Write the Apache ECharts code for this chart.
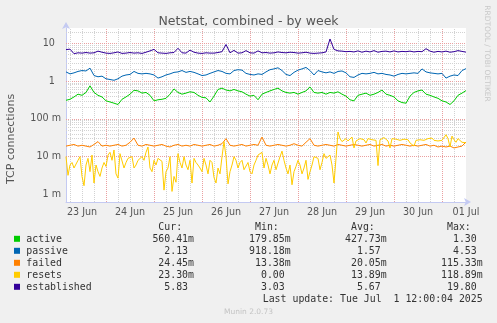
<!DOCTYPE html>
<html>
<head>
<meta charset="utf-8">
<script src="https://cdn.jsdelivr.net/npm/echarts@6/dist/echarts.min.js"></script>
<style>
  html, body { margin: 0; padding: 0; background: #f0f0f0; }
  #chart { width: 497px; height: 323px; }
</style>
</head>
<body>
<div id="chart"></div>
<script>
// Time axis: hours since 23 Jun 00:00; samples start at 04:00.
const START_HOUR = 4;
const END_HOUR = 204;
const STEP_2H = 2;   // active, passive, failed, established
const STEP_1H = 1;   // resets

const dayLabels = ['23 Jun', '24 Jun', '25 Jun', '26 Jun', '27 Jun', '28 Jun', '29 Jun', '30 Jun', '01 Jul'];
const yTickLabels = { '-3': '1 m', '-2': '10 m', '-1': '100 m', '0': '1', '1': '10' };

const seriesNames = ['active', 'passive', 'failed', 'resets', 'established'];
const seriesColors = ['#00cc00', '#0066b3', '#ff8000', '#ffcc00', '#330099'];

const active = [
  0.31, 0.33, 0.38, 0.45, 0.42, 0.5, 0.75, 0.5, 0.42, 0.38,
  0.3, 0.28, 0.26, 0.24, 0.33, 0.38, 0.45, 0.57, 0.55, 0.48,
  0.5, 0.42, 0.3, 0.32, 0.33, 0.35, 0.45, 0.62, 0.5, 0.45,
  0.48, 0.52, 0.5, 0.42, 0.37, 0.36, 0.28, 0.4, 0.6, 0.65,
  0.58, 0.55, 0.6, 0.55, 0.52, 0.45, 0.4, 0.42, 0.32, 0.45,
  0.5, 0.55, 0.6, 0.65, 0.55, 0.5, 0.48, 0.5, 0.45, 0.5,
  0.55, 0.7, 0.5, 0.48, 0.5, 0.45, 0.5, 0.48, 0.52, 0.45,
  0.4, 0.32, 0.3, 0.42, 0.45, 0.48, 0.42, 0.45, 0.5, 0.58,
  0.45, 0.42, 0.38, 0.3, 0.27, 0.26, 0.4, 0.5, 0.55, 0.58,
  0.45, 0.42, 0.38, 0.35, 0.3, 0.28, 0.24, 0.3, 0.42, 0.48,
  0.5604
];

const passive = [
  1.75, 1.55, 1.65, 1.8, 1.9, 1.85, 2.2, 1.4, 1.3, 1.35,
  1.15, 1.1, 1.05, 1.15, 1.35, 1.45, 1.5, 1.8, 1.6, 1.55,
  1.6, 1.55, 1.45, 1.2, 1.3, 1.45, 1.55, 1.7, 1.75, 1.9,
  1.7, 1.8, 1.7, 1.55, 1.4, 1.45, 1.6, 1.75, 1.9, 1.8,
  1.6, 1.55, 1.9, 2.0, 1.95, 1.6, 1.5, 1.45, 1.55, 1.5,
  1.75, 2.0, 2.1, 2.25, 1.9, 1.5, 1.4, 1.7, 1.95, 2.1,
  2.3, 1.9, 1.45, 1.9, 1.75, 1.65, 1.75, 1.6, 1.8, 1.85,
  1.65, 1.3, 1.25, 1.45, 1.6, 1.55, 1.6, 1.7, 1.55, 1.6,
  1.5, 1.45, 1.35, 1.5, 1.6, 1.55, 1.6, 1.65, 1.6, 2.1,
  1.75, 1.65, 1.6, 1.55, 1.6, 1.2, 1.35, 1.45, 1.4, 1.9,
  2.13
];

const failed = [
  0.019, 0.020, 0.021, 0.019, 0.020, 0.019, 0.018, 0.021, 0.025, 0.019,
  0.020, 0.019, 0.020, 0.021, 0.019, 0.020, 0.024, 0.031, 0.020, 0.019,
  0.021, 0.020, 0.019, 0.020, 0.021, 0.019, 0.018, 0.020, 0.021, 0.019,
  0.020, 0.019, 0.021, 0.020, 0.019, 0.020, 0.021, 0.019, 0.020, 0.022,
  0.030, 0.020, 0.019, 0.020, 0.021, 0.019, 0.020, 0.021, 0.020, 0.033,
  0.020, 0.019, 0.020, 0.021, 0.020, 0.019, 0.020, 0.022, 0.020, 0.019,
  0.024, 0.030, 0.020, 0.019, 0.020, 0.021, 0.020, 0.019, 0.021, 0.020,
  0.019, 0.020, 0.021, 0.020, 0.019, 0.020, 0.021, 0.019, 0.020, 0.021,
  0.019, 0.020, 0.019, 0.020, 0.021, 0.020, 0.019, 0.020, 0.019, 0.020,
  0.021, 0.019, 0.020, 0.018, 0.019, 0.018, 0.019, 0.017, 0.018, 0.019,
  0.02445
];

const resets = [
  0.0100, 0.0032, 0.0060, 0.0070, 0.0050, 0.0050, 0.0080, 0.0100, 0.0030, 0.0017,
  0.0060, 0.0090, 0.0040, 0.0110, 0.0020, 0.0060, 0.0040, 0.0030, 0.0050, 0.0070,
  0.0055, 0.0110, 0.0130, 0.0080, 0.0150, 0.0035, 0.0027, 0.0120, 0.0130, 0.0050,
  0.0070, 0.0090, 0.0080, 0.0100, 0.0050, 0.0060, 0.0080, 0.0090, 0.0100, 0.0080,
  0.0130, 0.0180, 0.0050, 0.0040, 0.0080, 0.0060, 0.0090, 0.0100, 0.0075, 0.0013,
  0.0040, 0.0050, 0.0100, 0.0012, 0.0030, 0.0021, 0.0120, 0.0070, 0.0050, 0.0100,
  0.0060, 0.0045, 0.0080, 0.0020, 0.0090, 0.0070, 0.0060, 0.0050, 0.0040, 0.0090,
  0.0060, 0.0035, 0.0080, 0.0070, 0.0028, 0.0020, 0.0050, 0.0035, 0.0100, 0.0250,
  0.0100, 0.0019, 0.0040, 0.0060, 0.0100, 0.0080, 0.0050, 0.0070, 0.0080, 0.0045,
  0.0050, 0.0070, 0.0040, 0.0035, 0.0060, 0.0080, 0.0110, 0.0120, 0.0130, 0.0050,
  0.0090, 0.0060, 0.0035, 0.0060, 0.0080, 0.0045, 0.0040, 0.0100, 0.0140, 0.0080,
  0.0050, 0.0035, 0.0060, 0.0018, 0.0040, 0.0055, 0.0080, 0.0060, 0.0035, 0.0050,
  0.0080, 0.0025, 0.0040, 0.0060, 0.0100, 0.0110, 0.0090, 0.0045, 0.0070, 0.0120,
  0.0090, 0.0080, 0.0110, 0.0060, 0.0020, 0.0090, 0.0450, 0.0300, 0.0250, 0.0280,
  0.0300, 0.0260, 0.0270, 0.0330, 0.0170, 0.0260, 0.0280, 0.0300, 0.0320, 0.0280,
  0.0230, 0.0300, 0.0320, 0.0280, 0.0300, 0.0270, 0.0058, 0.0280, 0.0300, 0.0320,
  0.0290, 0.0260, 0.0170, 0.0300, 0.0320, 0.0290, 0.0310, 0.0270, 0.0250, 0.0290,
  0.0320, 0.0280, 0.0230, 0.0220, 0.0190, 0.0270, 0.0300, 0.0280, 0.0250, 0.0270,
  0.0260, 0.0300, 0.0320, 0.0310, 0.0270, 0.0240, 0.0260, 0.0280, 0.0270, 0.0300,
  0.0380, 0.0300, 0.0180, 0.0350, 0.0280, 0.0240, 0.0300, 0.0270, 0.0240, 0.0260,
  0.0233
];

const established = [
  6.8, 7.0, 5.3, 5.6, 5.5, 5.7, 5.5, 5.6, 6.2, 5.8,
  5.5, 5.4, 5.6, 5.9, 5.4, 5.5, 5.7, 5.5, 5.6, 5.4,
  5.8, 6.3, 6.9, 5.6, 5.5, 5.4, 5.6, 5.7, 7.4, 5.6,
  5.5, 6.6, 5.8, 5.5, 5.4, 5.6, 5.5, 5.5, 5.7, 6.0,
  9.3, 5.6, 6.5, 5.5, 5.6, 6.4, 5.6, 5.5, 6.3, 5.6,
  5.7, 5.5, 5.6, 5.9, 5.7, 5.6, 5.8, 5.7, 5.5, 5.6,
  5.8, 5.5, 5.4, 5.5, 5.6, 5.9, 13.0, 6.9, 6.3, 6.2,
  6.0, 6.1, 5.9, 6.3, 5.8, 6.2, 5.9, 6.4, 5.8, 6.1,
  6.2, 5.9, 6.3, 5.9, 6.1, 6.0, 6.2, 5.9, 6.1, 6.0,
  7.2, 6.2, 5.8, 6.1, 5.9, 6.2, 5.8, 6.0, 6.4, 6.1,
  5.83
];

// Legend statistics (Cur, Min, Avg, Max) per series
const statHeaders = ['Cur:', 'Min:', 'Avg:', 'Max:'];
const statsActive = ['560.41m', '179.85m', '427.73m', '1.30'];
const statsPassive = ['2.13', '918.18m', '1.57', '4.53'];
const statsFailed = ['24.45m', '13.38m', '20.05m', '115.33m'];
const statsResets = ['23.30m', '0.00', '13.89m', '118.89m'];
const statsEstablished = ['5.83', '3.03', '5.67', '19.80'];
const lastUpdate = 'Last update: Tue Jul  1 12:00:04 2025';

const seriesValues = [active, passive, failed, resets, established];
const seriesSteps = [STEP_2H, STEP_2H, STEP_2H, STEP_1H, STEP_2H];
const seriesStats = [statsActive, statsPassive, statsFailed, statsResets, statsEstablished];

const Y_MIN = 0.00063;
const Y_MAX = 25.4;

// ---- grid lines (rrdtool style dotted grid) ----
const MINOR_COLOR = '#d2d2d2';
const MAJOR_COLOR = '#eaa0a0';
const gridLines = [];
for (let d = -4; d <= 1; d++) {
  for (let k = 1; k <= 9; k++) {
    const v = Number((k * Math.pow(10, d)).toPrecision(3));
    if (v <= Y_MIN || v >= Y_MAX) continue;
    gridLines.push({ yAxis: v, lineStyle: { color: k === 1 ? MAJOR_COLOR : MINOR_COLOR } });
  }
}
for (let h = 6; h < END_HOUR; h += 6) {
  if (h <= START_HOUR) continue;
  gridLines.push({ xAxis: h, lineStyle: { color: h % 24 === 0 ? MAJOR_COLOR : MINOR_COLOR } });
}

const series = [{
  type: 'line',
  data: [],
  silent: true,
  z: 1,
  markLine: {
    silent: true,
    z: 1,
    animation: false,
    symbol: ['none', 'none'],
    label: { show: false },
    lineStyle: { width: 1, type: [1, 1] },
    emphasis: { disabled: true },
    data: gridLines
  }
}];
seriesNames.forEach((name, s) => {
  series.push({
    name,
    type: 'line',
    data: seriesValues[s].map((v, i) => [START_HOUR + i * seriesSteps[s], v]),
    symbol: 'none',
    showSymbol: false,
    silent: true,
    z: 2 + s,
    lineStyle: { width: 1, color: seriesColors[s] },
    itemStyle: { color: seriesColors[s] }
  });
});

// ---- legend / footer drawn as text ----
const MONO = '9.9px "DejaVu Sans Mono"';
const CHAR_W = 5.96;
const colRight = [194, 290.7, 386.7, 482.7];
const graphics = [];
const ROW0 = 227.3, ROW_H = 12;
statHeaders.forEach((h, c) => {
  graphics.push({ type: 'text', style: { text: h, x: colRight[c] - 2 * CHAR_W, y: ROW0, font: MONO, fill: '#333', align: 'right', verticalAlign: 'middle' } });
});
seriesNames.forEach((name, s) => {
  const y = ROW0 + ROW_H * (s + 1);
  graphics.push({ type: 'rect', shape: { x: 14, y: y - 3.5, width: 6, height: 6 }, style: { fill: seriesColors[s] } });
  graphics.push({ type: 'text', style: { text: name, x: 26.3, y, font: MONO, fill: '#333', align: 'left', verticalAlign: 'middle' } });
  seriesStats[s].forEach((t, c) => {
    const hasUnit = /[a-zA-Z]$/.test(t);
    graphics.push({ type: 'text', style: { text: t, x: colRight[c] - (hasUnit ? 0 : CHAR_W), y, font: MONO, fill: '#333', align: 'right', verticalAlign: 'middle' } });
  });
});
graphics.push({ type: 'text', style: { text: lastUpdate, x: 482.7, y: ROW0 + ROW_H * 6, font: MONO, fill: '#333', align: 'right', verticalAlign: 'middle' } });
graphics.push({ type: 'text', style: { text: 'Munin 2.0.73', x: 248.5, y: 312, font: '7.5px "DejaVu Sans"', fill: '#c4c4c4', align: 'center', verticalAlign: 'middle' } });
graphics.push({ type: 'text', x: 487, y: 53.5, rotation: -Math.PI / 2, style: { text: 'RRDTOOL / TOBI OETIKER', x: 0, y: 0, font: '7.5px "DejaVu Sans"', fill: '#c8c8c8', align: 'center', verticalAlign: 'middle' } });
graphics.push({ type: 'text', x: 11, y: 139, rotation: Math.PI / 2, style: { text: 'TCP connections', x: 0, y: 0, font: '11px "DejaVu Sans"', fill: '#555', align: 'center', verticalAlign: 'middle' } });

const AXIS_COLOR = '#c4caf2';
const option = {
  backgroundColor: '#f0f0f0',
  animation: false,
  title: {
    text: 'Netstat, combined - by week',
    left: 'center',
    top: 10,
    textStyle: { fontFamily: 'DejaVu Sans', fontSize: 12.5, fontWeight: 'normal', color: '#555' }
  },
  grid: { left: 66, right: 31, top: 28, bottom: 121, show: true, backgroundColor: '#ffffff', borderWidth: 0 },
  xAxis: {
    type: 'value',
    min: START_HOUR,
    max: END_HOUR,
    axisLine: { show: true, lineStyle: { color: AXIS_COLOR, width: 1 }, symbol: ['none', 'arrow'], symbolSize: [6, 7], symbolOffset: [0, 5] },
    axisTick: { show: false },
    splitLine: { show: false },
    axisLabel: {
      customValues: dayLabels.map((_, k) => 12 + 24 * k),
      formatter: v => dayLabels[Math.round((v - 12) / 24)] || '',
      fontFamily: 'DejaVu Sans', fontSize: 9.6, color: '#555', margin: 5,
      showMinLabel: true, showMaxLabel: true, hideOverlap: false
    }
  },
  yAxis: {
    type: 'log',
    logBase: 10,
    min: Y_MIN,
    max: Y_MAX,
    axisLine: { show: true, lineStyle: { color: AXIS_COLOR, width: 1 }, symbol: ['none', 'arrow'], symbolSize: [6, 7], symbolOffset: [0, 6] },
    axisTick: { show: false },
    splitLine: { show: false },
    minorTick: { show: false },
    axisLabel: {
      formatter: v => {
        const e = Math.log10(v);
        if (Math.abs(e - Math.round(e)) > 1e-6) return '';
        const t = yTickLabels[String(Math.round(e))];
        if (!t) return '';
        return /m$/.test(t) ? t : t + '  ';
      },
      fontFamily: 'DejaVu Sans', fontSize: 9.6, color: '#555', margin: 5
    }
  },
  series,
  graphic: graphics
};

const chart = echarts.init(document.getElementById('chart'), null, { renderer: 'canvas' });
chart.setOption(option);
</script>
</body>
</html>
